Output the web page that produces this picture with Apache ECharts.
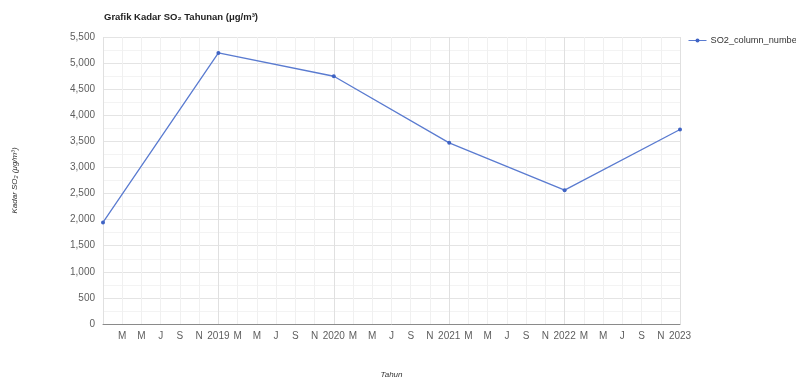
<!DOCTYPE html>
<html>
<head>
<meta charset="utf-8">
<script src="https://cdn.jsdelivr.net/npm/echarts@6/dist/echarts.min.js"></script>
<style>
  html, body { margin: 0; padding: 0; background: #fff; }
  #chart { width: 796px; height: 379px; }
</style>
</head>
<body>
<div id="chart"></div>
<script>
// Annual SO2 readings, one per January 1st
const years = [2018, 2019, 2020, 2021, 2022, 2023];
const so2Values = [1947, 5195, 4748, 3472, 2565, 3727];
// Tick labels for odd months between the year ticks (Mar, May, Jul, Sep, Nov)
const monthTickLabels = { 2: 'M', 4: 'M', 6: 'J', 8: 'S', 10: 'N' };
const seriesName = 'SO2_column_number';

const baseYear = years[0];
// x position expressed as months since January of the first year
const points = years.map((y, i) => [(y - baseYear) * 12, so2Values[i]]);

const chart = echarts.init(document.getElementById('chart'));
const font = '"Liberation Sans", Arial, sans-serif';

chart.setOption({
  animation: false,
  title: {
    text: 'Grafik Kadar SO\u2082 Tahunan (\u03bcg/m\u00b3)',
    left: 99,
    top: 7,
    textStyle: { fontFamily: font, fontSize: 9.5, fontWeight: 'bold', color: '#222' }
  },
  legend: {
    data: [seriesName],
    left: 688,
    top: 36,
    padding: 0,
    itemWidth: 18,
    itemHeight: 5,
    itemGap: 4,
    lineStyle: { width: 1 },
    textStyle: { fontFamily: font, fontSize: 9.2, color: '#333', overflow: 'none', padding: [0, 0, 0, -1] }
  },
  grid: { left: 103, right: 116, top: 37, bottom: 55, outerBoundsMode: 'none', containLabel: false },
  xAxis: {
    type: 'value',
    min: 0,
    max: (years[years.length - 1] - baseYear) * 12,
    interval: 2,
    name: 'Tahun',
    nameLocation: 'middle',
    nameGap: 47,
    nameTextStyle: { fontFamily: font, fontSize: 8, fontStyle: 'italic', color: '#333' },
    axisLine: { show: true, lineStyle: { color: '#8a8a8a', width: 1 } },
    axisTick: { show: false },
    axisLabel: {
      showMinLabel: false,
      margin: 7,
      fontFamily: font,
      fontSize: 10,
      color: '#5e5e5e',
      formatter: function (v) {
        if (v % 12 === 0) return String(baseYear + v / 12);
        return monthTickLabels[v % 12] || '';
      }
    },
    splitLine: {
      show: true,
      lineStyle: { color: ['#e0e0e0', '#f0f0f0', '#f0f0f0', '#f0f0f0', '#f0f0f0', '#f0f0f0'], width: 1 }
    }
  },
  yAxis: {
    type: 'value',
    min: 0,
    max: 5500,
    interval: 500,
    name: 'Kadar SO\u2082 (\u03bcg/m\u00b3)',
    nameLocation: 'middle',
    nameGap: 84,
    nameTextStyle: { fontFamily: font, fontSize: 8, fontStyle: 'italic', color: '#333' },
    axisLine: { show: false },
    axisTick: { show: false },
    axisLabel: {
      margin: 8,
      fontFamily: font,
      fontSize: 10,
      color: '#5e5e5e',
      formatter: v => v.toLocaleString('en-US')
    },
    splitLine: { lineStyle: { color: '#e4e4e4', width: 1 } },
    minorTick: { show: false, splitNumber: 2 },
    minorSplitLine: { show: true, lineStyle: { color: '#f3f3f3', width: 1 } }
  },
  series: [{
    name: seriesName,
    type: 'line',
    data: points,
    symbol: 'circle',
    symbolSize: 4,
    showSymbol: true,
    lineStyle: { color: '#5a7bd0', width: 1.3 },
    itemStyle: { color: '#3f63c4' }
  }]
});
</script>
</body>
</html>
